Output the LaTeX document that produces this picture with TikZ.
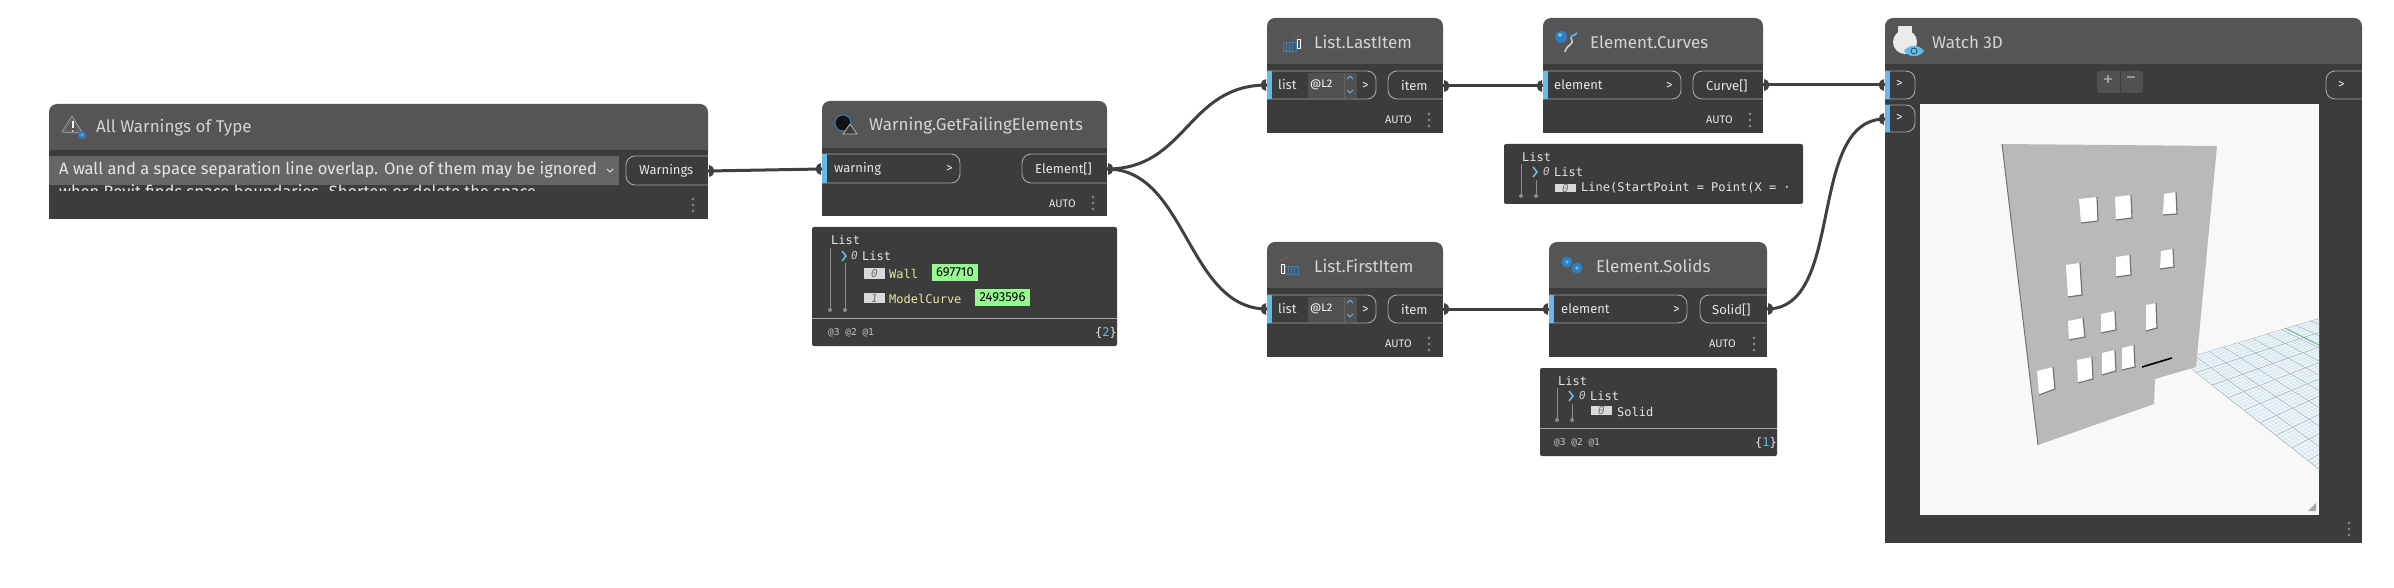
\documentclass[tikz,border=0pt]{standalone}
\usepackage{fontspec}
\setmainfont{Fira Sans}
\newfontfamily\watchfont{DejaVu Sans Mono}
\usetikzlibrary{fit}
\definecolor{headcol}{HTML}{555555}
\definecolor{bodycol}{HTML}{3C3C3C}
\definecolor{pillcol}{HTML}{A6A6A6}
\definecolor{portblue}{HTML}{62BBE8}
\definecolor{iconblue}{HTML}{2F7FC1}
\definecolor{titlecol}{HTML}{D4D4D4}
\definecolor{textcol}{HTML}{E6E6E6}
\definecolor{dropcol}{HTML}{666666}
\definecolor{wirecol}{HTML}{404040}
\definecolor{hitgreen}{HTML}{96FA90}
\definecolor{wallcol}{HTML}{B9B9B9}
\definecolor{viewcol}{HTML}{F8F8F8}
\definecolor{gridfine}{HTML}{C9E0EA}
\definecolor{gridcoarse}{HTML}{A4AEB3}
\definecolor{typecol}{HTML}{E8E6A4}
\tikzset{
  nodebody/.style={fill=bodycol,inner sep=0pt,outer sep=0pt},
  nodetitle/.style={anchor=west,inner sep=0pt,text=titlecol,font=\fontsize{17}{20}\selectfont},
  porttext/.style={anchor=west,inner sep=0pt,text=textcol,font=\fontsize{13}{15}\selectfont},
  warntext/.style={anchor=west,inner sep=0pt,text=textcol,font=\fontsize{16.5}{18}\selectfont},
  autotext/.style={anchor=west,inner sep=0pt,text=textcol,font=\fontsize{11}{13}\selectfont},
  pillline/.style={draw=pillcol,line width=0.9pt,rounded corners=9pt},
  watchbox/.style={fill=bodycol,rounded corners=2pt,inner sep=0pt,outer sep=0pt},
  watchtext/.style={anchor=west,inner sep=0pt,text=textcol,font=\watchfont\fontsize{12}{14}\selectfont},
  watchsmall/.style={anchor=west,inner sep=0pt,text=textcol!85!black,font=\watchfont\fontsize{9.5}{11}\selectfont},
  wire/.style={draw=wirecol,line width=3pt},
  indexbox/.style={fill=black!15,minimum width=21pt,minimum height=10pt,inner sep=0pt,text=black!55,font=\watchfont\itshape\fontsize{11}{11}\selectfont},
  hitbox/.style={fill=hitgreen,inner sep=0pt,text=black,font=\fontsize{13}{15}\selectfont},
  dotcol/.style={fill=black!45},
}
\begin{document}
\begin{tikzpicture}[x=1pt,y=-1pt]
\useasboundingbox (0,0) rectangle (2394,588);
% node frames
\foreach \nm/\xa/\ya/\xb/\yb/\yc in {warn/49/104/708/150/219,fail/822/101/1107/148/216,last/1267/18/1443/64/133,
  first/1267/242/1443/288/357,curves/1543/18/1763/64/133,solids/1549/242/1767/288/357,watch/1885/18/2362/64/543}{
  \fill[headcol,rounded corners=8pt] (\xa,\yb)--(\xa,\ya)--(\xb,\ya)--(\xb,\yb);
  \node[nodebody,fit={(\xa,\yb) (\xb,\yc)}] (\nm) {};
}
% titles
\node[nodetitle] (warntitle) at (96,128) {All Warnings of Type};
\node[nodetitle] (failtitle) at (869,126) {Warning.GetFailingElements};
\node[nodetitle] (lasttitle) at (1314,42) {List.LastItem};
\node[nodetitle] (firsttitle) at (1314,266) {List.FirstItem};
\node[nodetitle] (curvestitle) at (1590,42) {Element.Curves};
\node[nodetitle] (solidstitle) at (1596,266) {Element.Solids};
\node[nodetitle] (watchtitle) at (1932,42) {Watch 3D};
% warning text box
\fill[dropcol] (49,156) rectangle (619,185);
\node[warntext] (warnline) at (59,170) {A wall and a space separation line overlap. One of them may be ignored};
\begin{scope}
\clip (49,183) rectangle (619,191);
\node[warntext] (warnnext) at (59,193) {when Revit finds space boundaries. Shorten or delete the space};
\end{scope}
\draw[textcol,line width=1pt] (607,169)--(610,172)--(613,169);
% input pills
\foreach \xa/\ya/\xb/\yb in {822/154/960/183,1267/71/1376/99,1267/295/1376/323,1543/71/1681/99,1549/295/1687/323,1885/71/1915/99,1885/105/1915/132}{
  \draw[pillline] (\xa,\ya)--(\xb,\ya)--(\xb,\yb)--(\xa,\yb);
  \fill[portblue] (\xa,\ya) rectangle (\xa+5,\yb);
}
% output pills
\foreach \xa/\ya/\xb/\yb in {626/156/708/185,1022/154/1107/183,1388/71/1443/99,1388/295/1443/323,1693/71/1763/99,1700/295/1767/323,2326/71/2362/99}{
  \draw[pillline] (\xb,\ya)--(\xa,\ya)--(\xa,\yb)--(\xb,\yb);
}
% lacing boxes
\foreach \yy in {73,297}{
  \fill[headcol!85!bodycol] (1308,\yy) rectangle (1357,\yy+25);
  \draw[black!60,line width=0.6pt] (1344,\yy) -- ++(0,25);
  \draw[portblue,line width=0.8pt] (1347,\yy+6)--(1350,\yy+3)--(1353,\yy+6);
  \draw[portblue,line width=0.8pt] (1347,\yy+17)--(1350,\yy+20)--(1353,\yy+17);
}
% port labels
\foreach \tx/\ty/\tlb [count=\ti] in {639/171/Warnings,834/169/warning,1035/169/Element[],1278/85/list,1278/309/list,
  1401/86/item,1401/310/item,1554/85/element,1561/309/element,1706/86/Curve[],1712/310/Solid[]}{
  \node[porttext] (port\ti) at (\tx,\ty) {\tlb};
}
\foreach \tx/\ty [count=\ti] in {946/169,1362/86,1362/310,1666/86,1673/310,1896/84,1896/118,2338/85}{
  \node[porttext] (more\ti) at (\tx,\ty) {>};
}
\foreach \ty [count=\ti] in {85,309}{
  \node[porttext,text=white,font=\fontsize{11}{13}\selectfont] (lace\ti) at (1310,\ty) {@L2};
}
\foreach \tx/\ty [count=\ti] in {1049/203.5,1385/119.5,1385/343.5,1706/119.5,1709/343.5}{
  \node[autotext] (auto\ti) at (\tx,\ty) {AUTO};
}
% menu dots
\foreach \tx/\ty in {693/205,1093/203,1429/120,1429/344,1750/120,1754/344,2349/529}{
  \foreach \dd in {-6,0,6}{\fill[dotcol] (\tx,\ty+\dd) circle (1.4pt);}
}
% wires
\coordinate (warnout) at (708,171);
\coordinate (failin) at (822,169);
\coordinate (failout) at (1107,169);
\coordinate (lastin) at (1267,85);
\coordinate (firstin) at (1267,309);
\coordinate (lastout) at (1443,86);
\coordinate (firstout) at (1443,309);
\coordinate (curvesin) at (1543,86);
\coordinate (solidsin) at (1549,309);
\coordinate (curvesout) at (1763,85);
\coordinate (solidsout) at (1767,309);
\coordinate (watchina) at (1885,85);
\coordinate (watchinb) at (1885,119);
\draw[wire] (warnout)--(failin);
\draw[wire] (failout) .. controls (1187,169) and (1187,85) .. (lastin);
\draw[wire] (failout) .. controls (1187,169) and (1187,309) .. (firstin);
\draw[wire] (lastout)--(curvesin);
\draw[wire] (firstout)--(solidsin);
\draw[wire] (curvesout)--(watchina);
\draw[wire] (solidsout) .. controls (1846,309) and (1806,119) .. (watchinb);
\foreach \pp in {warnout,failout,lastout,firstout,curvesout,solidsout}{
  \fill[wirecol] (\pp) ++(1,-6) arc (-90:90:5 and 6) -- cycle;
}
\foreach \pp in {failin,lastin,firstin,curvesin,solidsin,watchina,watchinb}{
  \fill[wirecol] (\pp) ++(-1,-6) arc (-90:-270:5 and 6) -- cycle;
}
% watch of the failing elements
\node[watchbox,fit={(812,227) (1117,346)}] (failwatch) {};
\node[watchtext] (failroot) at (831,240) {List};
\node[watchtext] (faillist) at (862,256) {List};
\node[watchtext,text=black!20,font=\watchfont\itshape\fontsize{11}{11}\selectfont] (failzero) at (851,255) {0};
\node[indexbox] (failidxa) at (874.5,273.5) {0};
\node[indexbox] (failidxb) at (874.5,298) {1};
\node[watchtext,text=typecol] (failwall) at (889,274) {Wall};
\node[watchtext,text=typecol] (failcurve) at (889,299) {ModelCurve};
\node[hitbox,minimum width=46pt,minimum height=17pt] (failhita) at (955,272.5) {697710};
\node[hitbox,minimum width=55pt,minimum height=17pt] (failhitb) at (1002.5,297.5) {2493596};
\draw[pillcol,line width=0.8pt] (812,318)--(1117,318);
\node[watchsmall] (failfoot) at (828,333) {@3 @2 @1};
\node[watchtext,anchor=east] (failcount) at (1117,333) {\{\textcolor{portblue}{2}\}};
% watch of the curves
\node[watchbox,fit={(1504,144) (1803,204)}] (curveswatch) {};
\node[watchtext] (curvesroot) at (1522,157) {List};
\node[watchtext] (curveslist) at (1554,172) {List};
\node[watchtext,text=black!20,font=\watchfont\itshape\fontsize{11}{11}\selectfont] (curveszero) at (1543,171) {0};
\node[indexbox,minimum height=8pt] (curvesidx) at (1565.5,188) {0};
\node[watchtext] (curvesline) at (1581,188) {Line(StartPoint = Point(X = \textperiodcentered};
% watch of the solids
\node[watchbox,fit={(1540,368) (1777,456)}] (solidswatch) {};
\node[watchtext] (solidsroot) at (1558,381) {List};
\node[watchtext] (solidslist) at (1590,396) {List};
\node[watchtext,text=black!20,font=\watchfont\itshape\fontsize{11}{11}\selectfont] (solidszero) at (1579,395) {0};
\node[indexbox,minimum height=9pt] (solidsidx) at (1601.5,410.5) {0};
\node[watchtext] (solidsitem) at (1617,412) {Solid};
\draw[pillcol,line width=0.8pt] (1540,428)--(1777,428);
\node[watchsmall] (solidsfoot) at (1554,443) {@3 @2 @1};
\node[watchtext,anchor=east] (solidscount) at (1777,443) {\{\textcolor{portblue}{1}\}};
% tree lines and chevrons
\foreach \tx/\ya/\yb in {830/248/310,845/263/310,1521/164/196,1536/180/196,1557/388/420,1572/404/420}{
  \draw[black!45,line width=0.9pt] (\tx,\ya)--(\tx,\yb);
  \fill[black!45] (\tx,\yb) circle (2pt);
}
\foreach \tx/\ty in {844/256,1535/172,1571/396}{
  \draw[portblue,line width=1.6pt] (\tx-2,\ty-5)--(\tx+2,\ty)--(\tx-2,\ty+5);
}
% zoom buttons
\fill[headcol!85!bodycol,rounded corners=2pt] (2097,71) rectangle (2143,93);
\draw[bodycol,line width=0.8pt] (2120,71)--(2120,93);
\node[porttext,anchor=center,text=black!35,font=\fontsize{21}{21}\selectfont] (zoomin) at (2108,81) {+};
\node[porttext,anchor=center,text=black!35,font=\fontsize{21}{21}\selectfont] (zoomout) at (2131,81) {\textminus};
% viewport
\fill[viewcol] (1920,104) rectangle (2319,515);
\begin{scope}
\clip (2180,360)--(2319,318.3)--(2319,470)--cycle;
\fill[gridfine!30!white] (2180,360)--(2319,318.3)--(2319,470)--cycle;
\foreach \k in {0,...,58}{
  \pgfmathsetmacro{\px}{2180+\k*2.9}
  \pgfmathsetmacro{\py}{360-0.3*(\px-2180)}
  \draw[gridfine,line width=0.35pt] (\px,\py)--({1910+3*(\px-1910)},{148+3*(\py-148)});
}
\foreach \k in {0,...,50}{
  \pgfmathsetmacro{\px}{2180+\k*3.2}
  \pgfmathsetmacro{\py}{360+0.785*(\px-2180)}
  \draw[gridfine,line width=0.35pt] (\px,\py)--({2834+0.1*(\px-2834)},{164+0.1*(\py-164)});
}
\foreach \k in {0,5,...,55}{
  \pgfmathsetmacro{\px}{2180+\k*2.9}
  \pgfmathsetmacro{\py}{360-0.3*(\px-2180)}
  \draw[gridcoarse,line width=0.45pt] (\px,\py)--({1910+3*(\px-1910)},{148+3*(\py-148)});
}
\foreach \k in {0,5,...,50}{
  \pgfmathsetmacro{\px}{2180+\k*3.2}
  \pgfmathsetmacro{\py}{360+0.785*(\px-2180)}
  \draw[gridcoarse,line width=0.45pt] (\px,\py)--({2834+0.1*(\px-2834)},{164+0.1*(\py-164)});
}
\draw[green!55!black!80,line width=0.5pt] (2283,327)--(2319,345);
\end{scope}
% wall
\fill[wallcol] (2002,144)--(2217,146)--(2196,367)--(2155,379)--(2154,404)--(2038,445)--cycle;
\draw[black!55,line width=1pt] (2002,144)--(2038,445);
\foreach \ax/\ay/\bx/\by in {2008/175/2213/168,2015/247/2208/225,2023/309/2204/274,2029/363/2200/320,2034/410/2175/367}{
  \draw[black!32,line width=0.3pt,densely dotted] (\ax,\ay)--(\bx,\by);
}
\foreach \ax/\ay/\bx/\by/\cx/\cy/\dx/\dy in {2079/199/2097/197/2098/221/2081/223,2115/197/2131/195/2132/218/2116/220,
  2164/194/2176/192/2177/214/2163/215,2066/265/2080/263/2082/295/2068/297,2116/257/2130/255/2131/275/2116/277,
  2161/251/2173/249/2174/267/2160/269,2068/321/2083/318/2085/337/2069/340,2101/314/2115/311/2116/330/2101/333,
  2146/305/2156/303/2157/328/2146/331,2037/371/2053/367/2055/389/2039/395,2077/360/2092/357/2093/379/2078/383,
  2102/353/2115/350/2116/371/2102/375,2122/348/2134/345/2135/367/2122/370}{
  \fill[white] (\ax,\ay)--(\bx,\by)--(\cx,\cy)--(\dx,\dy)--cycle;
  \draw[black!55,line width=1.2pt] (\bx,\by)--(\cx,\cy)--(\dx,\dy);
}
\draw[black,line width=1.6pt] (2142,367)--(2172,358);
\fill[black!35] (2316,503)--(2316,511)--(2308,511)--cycle;
% icons
\foreach \rr/\cc in {10/black!40,7/black!55}{
  \draw[\cc,line width=0.9pt,line join=round] (72,127-\rr*1.1)--(72+\rr,127+\rr*0.5)--(72,127+\rr*0.5+1)--(72-\rr,127+\rr*0.5)--cycle;
}
\fill[white] (72,121) rectangle (73.5,128);
\fill[white] (72.7,131) circle (0.9pt);
\fill[iconblue] (82,135) circle (4pt);
\fill[black!25] (82,135) circle (1pt);
\fill[black!70!bodycol] (843,123) circle (8pt);
\draw[iconblue,line width=0.9pt] (843,123) circle (8pt);
\fill[bodycol] (850,124)--(857,134)--(843,134)--cycle;
\draw[black!25,line width=0.7pt] (850,124)--(857,134)--(843,134)--cycle;
% list icons
\draw[iconblue,line width=0.9pt] (1283,42) rectangle (1296,51);
\foreach \tx in {1286,1289,1292}{\draw[iconblue,line width=0.7pt] (\tx,42)--(\tx,51);}
\draw[white,line width=1pt] (1297,40) rectangle (1300,49);
\draw[red!45!black!70,line width=1pt] (1294,36)--(1296,38)--(1301,33);
\draw[iconblue,line width=0.9pt] (1285,266) rectangle (1298,274);
\foreach \tx in {1288,1291,1294}{\draw[iconblue,line width=0.7pt] (\tx,266)--(\tx,274);}
\draw[white,line width=1pt] (1281,265) rectangle (1284,273);
\draw[red!45!black!70,line width=1pt] (1280,259)--(1282,261)--(1288,257);
% element icons
\fill[iconblue] (1561,37) circle (6pt);
\fill[portblue] (1560,35) circle (2pt);
\draw[titlecol,line width=1.5pt] (1565,52) .. controls (1567,43) and (1575,46) .. (1571,38);
\draw[portblue,line width=1.5pt] (1571,38) .. controls (1570,35) and (1575,36) .. (1577,33);
\foreach \tx/\ty in {1567/262,1577/268}{
  \fill[iconblue] (\tx,\ty) circle (5.5pt);
  \fill[portblue] (\tx,\ty) circle (1.8pt);
}
% watch icon
\fill[black!8] (1898,26) rectangle (1912,36);
\fill[black!8] (1905,42) circle (12pt);
\fill[portblue] (1904,51) .. controls (1909,44) and (1919,44) .. (1924,51) .. controls (1919,58) and (1909,58) .. cycle;
\draw[bodycol,line width=0.7pt] (1914,51) circle (3pt);
\end{tikzpicture}
\end{document}
